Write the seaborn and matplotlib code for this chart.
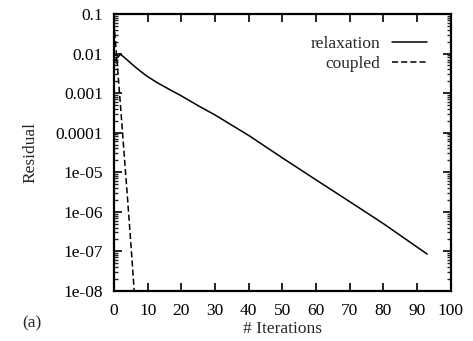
import matplotlib
matplotlib.use("Agg")
import matplotlib.pyplot as plt
import matplotlib.ticker as mticker
import seaborn as sns
import pandas as pd
import numpy as np

relax_x = [0, 1, 2, 4, 6, 8, 10, 13, 16, 20, 25, 30, 40, 50, 60, 70, 80, 93]
relax_y = [0.006, 0.008, 0.0095, 0.0068, 0.0048, 0.0035, 0.0026, 0.0018, 0.0013, 0.00085,
           0.00048, 0.00028, 8.5e-05, 2.3e-05, 6.4e-06, 1.8e-06, 5e-07, 8.5e-08]
coup_x = [0, 1, 2, 3, 4, 5, 6]
coup_y = [0.06, 0.005, 4e-04, 3e-05, 2.3e-06, 1.6e-07, 1e-08]
ytick_labels = ["1e-08", "1e-07", "1e-06", "1e-05", "0.0001", "0.001", "0.01", "0.1"]
xticks = list(range(0, 101, 10))

df = pd.concat([
    pd.DataFrame({"it": relax_x, "res": relax_y, "series": "relaxation"}),
    pd.DataFrame({"it": coup_x, "res": coup_y, "series": "coupled"}),
])

sns.set_style("ticks")
plt.rcParams['font.family'] = ['Liberation Serif', 'DejaVu Serif']
FS = 12.5
plt.rcParams['font.size'] = FS

fig = plt.figure(figsize=(4.73, 3.41), dpi=100)
ax = fig.add_axes([0.241, 0.147, 0.712, 0.812])

sns.lineplot(data=df, x="it", y="res", hue="series", style="series",
             palette={"relaxation": "black", "coupled": "black"},
             dashes={"relaxation": "", "coupled": (4, 2)},
             linewidth=1.1, ax=ax, sort=False, estimator=None)

ax.set_yscale("log")
ax.set_xlim(0, 100)
ax.set_ylim(1e-8, 0.1)
ax.set_xticks(xticks)
ax.set_xticklabels([str(t) for t in xticks])
yt = [10.0 ** e for e in range(-8, 0)]
ax.set_yticks(yt)
ax.set_yticklabels(ytick_labels)
ax.yaxis.set_minor_locator(mticker.LogLocator(base=10, subs=np.arange(2, 10), numticks=20))
ax.yaxis.set_minor_formatter(mticker.NullFormatter())
ax.tick_params(axis="both", which="major", direction="in", length=6, width=1.2,
               top=True, right=True, labelsize=FS, colors="black")
ax.tick_params(axis="y", which="major", pad=8)
ax.tick_params(axis="x", which="major", pad=9)
ax.tick_params(axis="both", which="minor", direction="in", length=3, width=1,
               top=True, right=True)
for s in ax.spines.values():
    s.set_linewidth(1.6)
    s.set_color("black")

ax.set_xlabel("# Iterations", fontsize=FS, labelpad=1)
ax.set_ylabel("Residual", fontsize=FS, labelpad=12)

leg = ax.legend(loc="upper right", frameon=False, markerfirst=False,
                fontsize=FS, handlelength=2.0, handletextpad=0.7,
                borderaxespad=0.0, labelspacing=0.2, bbox_to_anchor=(0.95, 0.945))
for t in leg.get_texts():
    t.set_ha("right")

fig.text(0.047, 0.04, "(a)", fontsize=FS)

fig.savefig("out.png", dpi=100)
